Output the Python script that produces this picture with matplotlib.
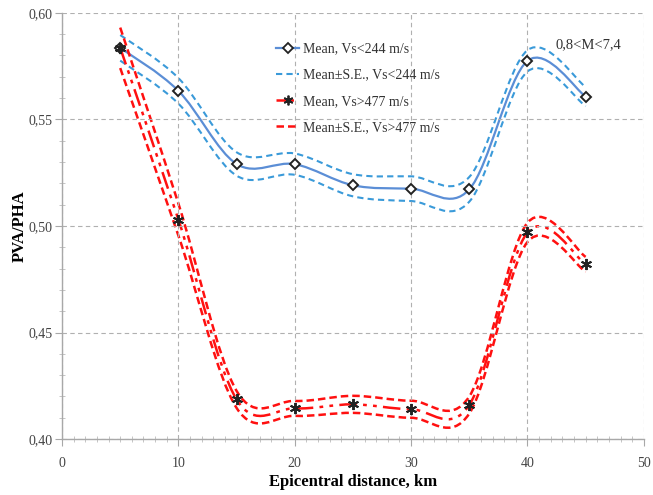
import numpy as np
import matplotlib
matplotlib.use('Agg')
from matplotlib import pyplot as plt
from matplotlib.path import Path
from matplotlib.patches import PathPatch
from matplotlib.lines import Line2D
from matplotlib.ticker import FuncFormatter, MultipleLocator

plt.rcParams['font.family'] = ['Liberation Serif', 'DejaVu Serif']

# epicentral distance, km
dist = [5, 10, 15, 20, 25, 30, 35, 40, 45]

# Vs < 244 m/s
mean_soft = [0.5836, 0.5634, 0.5291, 0.5290, 0.5191, 0.5175, 0.5172, 0.5775, 0.5607]
se_soft = [0.0060, 0.0060, 0.0055, 0.0050, 0.0052, 0.0058, 0.0058, 0.0050, 0.0045]

# Vs > 477 m/s
mean_rock = [0.5836, 0.5030, 0.4186, 0.4144, 0.4163, 0.4140, 0.4160, 0.4970, 0.4820]
se_rock = [0.0095, 0.0075, 0.0040, 0.0035, 0.0040, 0.0040, 0.0040, 0.0045, 0.0035]

blue = '#5b8ed6'
blue_se = '#3a9ad9'
red = '#ff1010'


def smooth_path(x, y):
    # excel-like smoothed line: cubic bezier segments through the points
    x = np.asarray(x, float)
    y = np.asarray(y, float)
    p = np.column_stack([x, y])
    pts = [p[0]]
    codes = [Path.MOVETO]
    n = len(p)
    for i in range(n - 1):
        p0 = p[i - 1] if i > 0 else p[i]
        p1 = p[i]
        p2 = p[i + 1]
        p3 = p[i + 2] if i + 2 < n else p[i + 1]
        c1 = p1 + (p2 - p0) / 6.0
        c2 = p2 - (p3 - p1) / 6.0
        pts += [c1, c2, p2]
        codes += [Path.CURVE4] * 3
    return Path(pts, codes)


def draw(ax, x, y, **kw):
    ax.add_patch(PathPatch(smooth_path(x, y), fill=False, capstyle='butt', **kw))


fig = plt.figure(figsize=(6.53, 4.95), dpi=100)
ax = fig.add_axes([0.095, 0.113, 0.891, 0.861])

ms = np.array(mean_soft)
es = np.array(se_soft)
mr = np.array(mean_rock)
er = np.array(se_rock)

dash_b = (0, (3, 2))
dash_r = (0, (3, 1.6))
dash_dot = (0, (7, 2.5, 1.5, 2.5, 1.5, 2.5))

draw(ax, dist, ms + es, edgecolor=blue_se, lw=1.5, linestyle=dash_b)
draw(ax, dist, ms - es, edgecolor=blue_se, lw=1.5, linestyle=dash_b)
draw(ax, dist, ms, edgecolor=blue, lw=1.6)
ax.plot(dist, mean_soft, linestyle='none', marker='D', ms=5.5, mfc='white',
        mec='#222222', mew=1.4, zorder=5)

draw(ax, dist, mr + er, edgecolor=red, lw=1.8, linestyle=dash_r)
draw(ax, dist, mr - er, edgecolor=red, lw=1.8, linestyle=dash_r)
draw(ax, dist, mr, edgecolor=red, lw=1.8, linestyle=dash_dot)
ax.plot(dist, mean_rock, linestyle='none', marker=(6, 2, 0), ms=8,
        mec='#222222', mew=1.4, zorder=5)

ax.set_xlim(0, 50)
ax.set_ylim(0.40, 0.60)
ax.xaxis.set_major_locator(MultipleLocator(10))
ax.xaxis.set_minor_locator(MultipleLocator(1))
ax.yaxis.set_major_locator(MultipleLocator(0.05))
ax.yaxis.set_minor_locator(MultipleLocator(0.01))
ax.yaxis.set_major_formatter(FuncFormatter(lambda v, p: ('%.2f' % v).replace('.', ',')))
ax.xaxis.set_major_formatter(FuncFormatter(lambda v, p: '%d' % v))

ax.grid(True, which='major', color='#b0b0b0', linestyle=(0, (4, 3)), lw=0.8)
for s in ['top', 'right']:
    ax.spines[s].set_visible(False)
for s in ['left', 'bottom']:
    ax.spines[s].set_color('#a8a8a8')
    ax.spines[s].set_linewidth(1.0)
ax.tick_params(which='major', direction='out', length=5, color='#a8a8a8',
               labelsize=10, labelcolor='#444444', pad=2)
ax.tick_params(axis='x', which='major', pad=8)
ax.tick_params(which='minor', direction='inout', length=4, color='#bbbbbb')

ax.set_xlabel('Epicentral distance, km', fontsize=12, fontweight='bold', labelpad=3)
ax.set_ylabel('PVA/PHA', fontsize=12, fontweight='bold', labelpad=0)

ax.text(42.4, 0.585, '0,8<M<7,4', fontsize=10.5, color='#333333', va='center')

handles = [
    Line2D([], [], color=blue, lw=1.6, marker='D', ms=5, mfc='white', mec='#222222', mew=1.3),
    Line2D([], [], color=blue_se, lw=1.5, linestyle=dash_b),
    Line2D([], [], color=red, lw=1.8, linestyle=dash_dot, marker=(6, 2, 0), ms=7, mec='#222222', mew=1.3),
    Line2D([], [], color=red, lw=1.8, linestyle=dash_r),
]
labels = ['Mean, Vs<244 m/s', 'Mean\u00b1S.E., Vs<244 m/s',
          'Mean, Vs>477 m/s', 'Mean\u00b1S.E., Vs>477 m/s']
leg = ax.legend(handles, labels, loc='upper left', bbox_to_anchor=(0.347, 0.96),
                frameon=False, fontsize=10, handlelength=1.6, handletextpad=0.3,
                labelspacing=0.95, labelcolor='#333333')

fig.savefig('out.png', dpi=100)
